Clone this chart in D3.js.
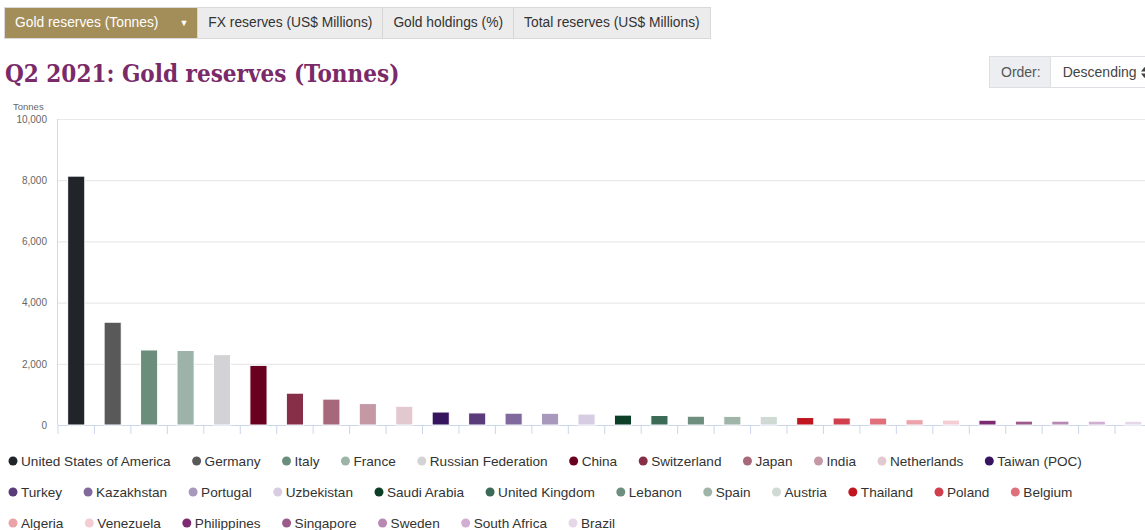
<!DOCTYPE html>
<html>
<head>
<meta charset="utf-8">
<script src="https://cdn.jsdelivr.net/npm/d3@7"></script>
<style>
  body { margin: 0; background: #fff; font-family: "Liberation Sans", Arial, sans-serif; }
  #page { position: relative; width: 1145px; height: 530px; overflow: hidden; }
  .tabs { position: absolute; left: 4px; top: 7px; display: flex; height: 32px; border: 1px solid #d9d9d9; box-sizing: border-box; }
  .tab { font-size: 13.8px; color: #333; background: #ececec; line-height: 30px; padding: 0 10px; border-left: 1px solid #d6d6d6; white-space: nowrap; }
  .tab.active { background: #a38e5a; color: #fff; border-left: none; padding-right: 9px; }
  .tab.active .caret { font-size: 9px; margin-left: 21px; vertical-align: 1px; }
  h1 { position: absolute; left: 5px; top: 59px; margin: 0; font-family: "DejaVu Serif", serif; font-stretch: condensed; font-weight: 600; font-size: 24px; color: #7a2a69; }
  .order { position: absolute; left: 989px; top: 56px; height: 32px; display: flex; border: 1px solid #dcdfe3; box-sizing: border-box; font-size: 14px; }
  .order .lbl { background: #eceef1; color: #555; line-height: 30px; padding: 0 9px 0 11px; border-right: 1px solid #dcdfe3; }
  .order .sel { background: #fff; color: #444; line-height: 30px; padding: 0 6px 0 12px; white-space: nowrap; }
  .order .sel svg { position: static; vertical-align: -1px; margin-left: 4px; }
  #chart { position: absolute; left: 0; top: 0; }
</style>
</head>
<body>
<div id="page">
  <svg id="chart" width="1145" height="530"></svg>
  <div class="tabs">
    <div class="tab active">Gold reserves (Tonnes)<span class="caret">&#9660;</span></div>
    <div class="tab">FX reserves (US$ Millions)</div>
    <div class="tab">Gold holdings (%)</div>
    <div class="tab">Total reserves (US$ Millions)</div>
  </div>
  <h1>Q2 2021: Gold reserves (Tonnes)</h1>
  <div class="order"><div class="lbl">Order:</div><div class="sel">Descending<svg width="7" height="11"><path d="M0,4.5L3.5,0L7,4.5Z M0,6.5L3.5,11L7,6.5Z" fill="#444"/></svg></div></div>
</div>
<script>
// data
var countries = ["United States of America", "Germany", "Italy", "France", "Russian Federation",
  "China", "Switzerland", "Japan", "India", "Netherlands", "Taiwan (POC)",
  "Turkey", "Kazakhstan", "Portugal", "Uzbekistan", "Saudi Arabia", "United Kingdom",
  "Lebanon", "Spain", "Austria", "Thailand", "Poland", "Belgium",
  "Algeria", "Venezuela", "Philippines", "Singapore", "Sweden", "South Africa", "Brazil"];
var tonnes = [8133, 3359, 2452, 2436, 2299, 1948, 1040, 846, 700, 612, 424,
  394, 386, 383, 358, 323, 310, 287, 282, 280, 244, 229, 227,
  174, 161, 156, 127, 126, 125, 122];
var colors = ["#212529", "#595959", "#6b8d7c", "#9db3a8", "#d3d3d5",
  "#6a0020", "#872e48", "#a6687a", "#c498a5", "#e2c9d0", "#37155e",
  "#5a3c7a", "#80699c", "#a898bc", "#d6cde2", "#0d3f28", "#3b6b56",
  "#6e8f7f", "#9fb5aa", "#cfdad5", "#c0141f", "#d13f4d", "#df6f7a",
  "#eba3a9", "#f4cdd2", "#7c2b71", "#9a5a8a", "#b888b2", "#d1afd3", "#e6d7e8"];
var yTicks = [0, 2000, 4000, 6000, 8000, 10000];

var svg = d3.select("#chart");
var plotLeft = 58, plotBase = 425, plotTop = 119, step = 36.45;

var x = d3.scaleBand()
  .domain(countries)
  .range([plotLeft, plotLeft + step * countries.length])
  .paddingInner(0.53)
  .paddingOuter(0.265);

var y = d3.scaleLinear()
  .domain([0, 10000])
  .range([plotBase, plotTop]);

// gridlines + y labels
var yAxis = d3.axisLeft(y).tickValues(yTicks).tickFormat(d3.format(",")).tickSize(-(1145 - plotLeft));
var gy = svg.append("g")
  .attr("transform", `translate(${plotLeft},0)`)
  .call(yAxis);
gy.select(".domain").remove();
gy.selectAll(".tick line").attr("stroke", "#e9e9e9").attr("stroke-width", 1.2);
gy.selectAll(".tick text")
  .attr("x", -11)
  .style("font-family", "Liberation Sans, Arial, sans-serif")
  .style("font-size", "10px")
  .attr("fill", "#666");

// left axis line
svg.append("line")
  .attr("x1", plotLeft - 0.5).attr("x2", plotLeft - 0.5)
  .attr("y1", plotTop).attr("y2", plotBase)
  .attr("stroke", "#d8d8d8");

svg.append("text")
  .attr("x", 13).attr("y", 110)
  .style("font-size", "9.5px")
  .attr("fill", "#666")
  .text("Tonnes");

// x axis ticks at band edges
var edges = countries.map(c => x(c) - x.step() * x.paddingInner() / 2);
svg.append("g").selectAll("line")
  .data(edges)
  .enter()
  .append("line")
  .attr("x1", d => d).attr("x2", d => d)
  .attr("y1", plotBase).attr("y2", plotBase + 9)
  .attr("stroke", "#ccd6eb");
svg.append("line")
  .attr("x1", plotLeft).attr("x2", 1145)
  .attr("y1", plotBase + 0.5).attr("y2", plotBase + 0.5)
  .attr("stroke", "#ccd6eb");

// bars
svg.append("g").selectAll("rect")
  .data(countries)
  .enter()
  .append("rect")
  .attr("x", d => x(d))
  .attr("width", x.bandwidth())
  .attr("y", (d, i) => y(tonnes[i]))
  .attr("height", (d, i) => plotBase - y(tonnes[i]))
  .attr("fill", (d, i) => colors[i])
  .attr("stroke", "#ffffff")
  .attr("stroke-width", 1);

// legend (flow layout)
var legend = svg.append("g");
var lx = 8, rowY = 461, gap = 21, maxX = 1140;
countries.forEach(function(c, i) {
  var item = legend.append("g");
  item.append("circle").attr("cx", 5).attr("cy", 0).attr("r", 4.5).attr("fill", colors[i]);
  var t = item.append("text")
    .attr("x", 13).attr("y", 5)
    .style("font-size", "13.6px")
    .attr("fill", "#333")
    .text(c);
  var w = 13 + t.node().getComputedTextLength();
  if (lx + w > maxX) { lx = 8; rowY += 31; }
  item.attr("transform", `translate(${lx},${rowY})`);
  lx += w + gap;
});
</script>
</body>
</html>
